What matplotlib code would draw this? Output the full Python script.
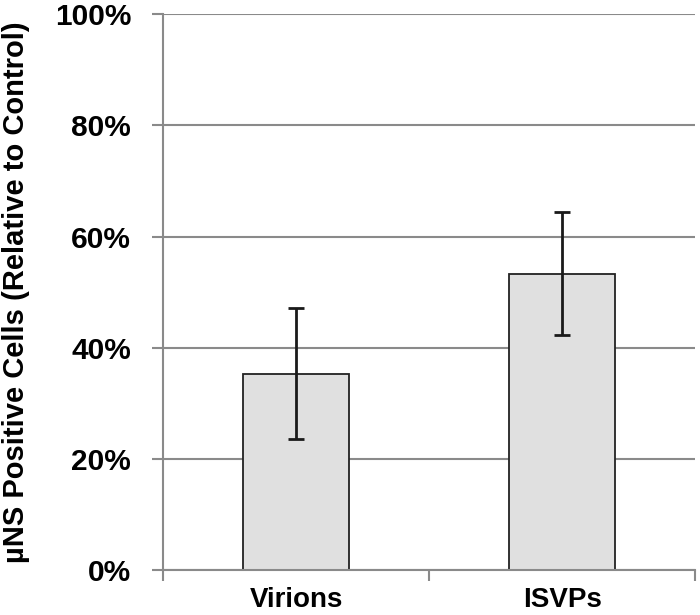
import matplotlib
matplotlib.use("Agg")
import matplotlib.pyplot as plt
from matplotlib.ticker import PercentFormatter

plt.rcParams['font.family'] = ['Liberation Sans', 'DejaVu Sans']

groups = ["Virions", "ISVPs"]
values = [35.3, 53.3]
err_low = [23.6, 42.2]
err_high = [47.1, 64.5]

yerr = [[v - lo for v, lo in zip(values, err_low)],
        [hi - v for v, hi in zip(values, err_high)]]

fig = plt.figure(figsize=(7, 6.15), dpi=100)
ax = fig.add_axes([0.233, 0.073, 0.760, 0.904])

grid_col = "#8a8a8a"
ax.yaxis.grid(True, color=grid_col, linewidth=1.5)
ax.set_axisbelow(True)

x = range(len(groups))
ax.bar(x, values, width=0.4, color="#e0e0e0", edgecolor="#222222", linewidth=1.3, zorder=2)
ax.errorbar(x, values, yerr=yerr, fmt="none", ecolor="#1a1a1a", elinewidth=2,
            capsize=6, capthick=2, zorder=3)

ax.set_xlim(-0.5, 1.5)
ax.set_ylim(0, 100)
ax.set_yticks(range(0, 101, 20))
ax.yaxis.set_major_formatter(PercentFormatter(decimals=0))

ax.set_xticks([-0.5, 0.5, 1.5])
ax.set_xticklabels([])
ax.set_xticks(list(x), minor=True)
ax.set_xticklabels(groups, minor=True, fontsize=20, fontweight="bold")
ax.tick_params(axis="x", which="minor", length=0, pad=12)
ax.tick_params(axis="x", which="major", length=8, width=1.5, color=grid_col)
ax.tick_params(axis="y", length=8, width=1.5, color=grid_col, labelsize=21.5, pad=15)
for lab in ax.get_yticklabels():
    lab.set_fontweight("bold")

for s in ["top", "right"]:
    ax.spines[s].set_visible(False)
for s in ["left", "bottom"]:
    ax.spines[s].set_color(grid_col)
    ax.spines[s].set_linewidth(1.5)

ax.set_ylabel("\u00b5NS Positive Cells (Relative to Control)", fontsize=21,
              fontweight="bold", labelpad=18)

fig.savefig("out.png", dpi=100)
